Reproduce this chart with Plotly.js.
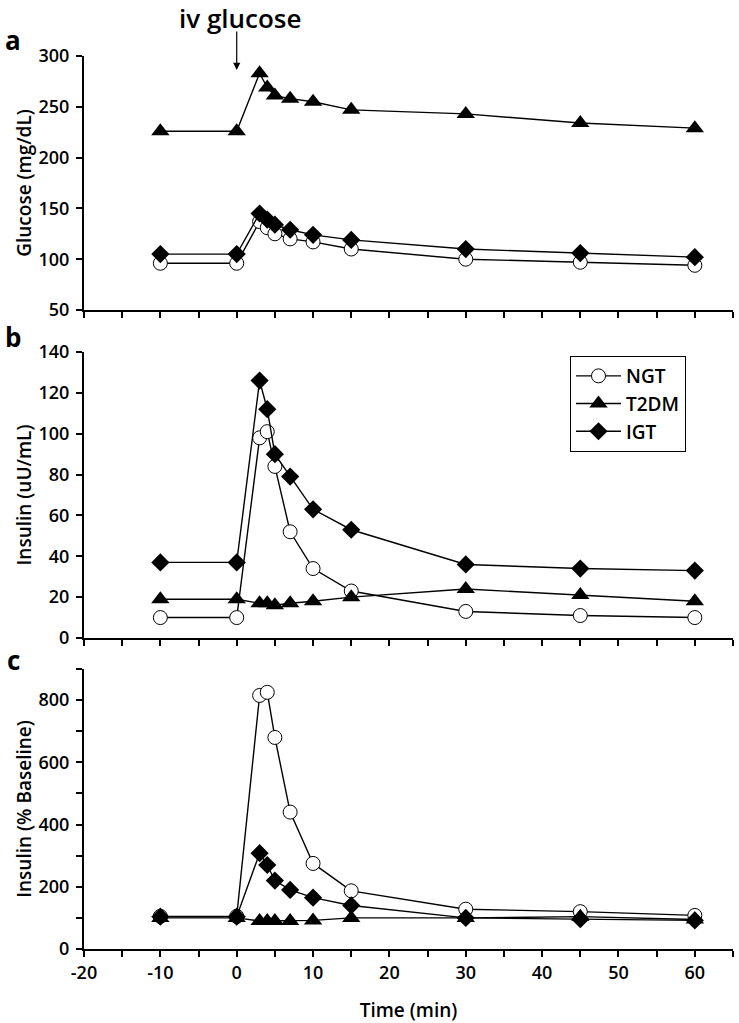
<!DOCTYPE html>
<html><head><meta charset="utf-8">
<script src="https://cdn.plot.ly/plotly-3.0.1.min.js"></script>
<style>body{margin:0;padding:0;background:#fff}#chart{width:739px;height:1023px}</style>
</head><body><div id="chart"></div>
<script>
const time = [-10, 0, 3, 4, 5, 7, 10, 15, 30, 45, 60];
const seriesNames = ['NGT', 'T2DM', 'IGT'];
const xTickVals = [-20, -10, 0, 10, 20, 30, 40, 50, 60];
const xTickLabels = ['-20', '-10', '0', '10', '20', '30', '40', '50', '60'];
// Panel a: glucose (mg/dL)
const glucoseNGT  = [96, 96, 137, 131, 125, 120, 117, 110, 100, 97, 94];
const glucoseT2DM = [226, 226, 283, 269, 261, 258, 255, 247, 243, 234, 229];
const glucoseIGT  = [105, 105, 145, 139, 134, 129, 124, 119, 110, 106, 102];
// Panel b: insulin (uU/mL)
const insulinNGT  = [10, 10, 98, 101, 84, 52, 34, 23, 13, 11, 10];
const insulinT2DM = [19, 19, 17, 17, 16, 17, 18, 20, 24, 21, 18];
const insulinIGT  = [37, 37, 126, 112, 90, 79, 63, 53, 36, 34, 33];
// Panel c: insulin (% baseline)
const pctNGT  = [105, 105, 815, 825, 680, 440, 275, 187, 128, 120, 108];
const pctT2DM = [100, 100, 90, 90, 90, 90, 92, 100, 100, 104, 95];
const pctIGT  = [104, 104, 308, 270, 220, 190, 165, 140, 100, 96, 92];

const markers = {
  NGT:  {symbol: 'circle', size: 14, color: '#ffffff', line: {color: '#000', width: 1}},
  T2DM: {symbol: 'triangle-up', size: 16, color: '#000000', line: {color: '#000', width: 0}},
  IGT:  {symbol: 'diamond', size: 14, color: '#000000', line: {color: '#000', width: 0}}
};
function tr(name, y, xa, ya, show) {
  return {x: time, y: y, name: name, type: 'scatter', mode: 'lines+markers',
    xaxis: xa, yaxis: ya, showlegend: show, legendgroup: name,
    line: {color: '#000', width: 1.4}, marker: markers[name]};
}
const data = [
  tr('NGT', glucoseNGT, 'x', 'y', false),
  tr('T2DM', glucoseT2DM, 'x', 'y', false),
  tr('IGT', glucoseIGT, 'x', 'y', false),
  tr('NGT', insulinNGT, 'x2', 'y2', true),
  tr('T2DM', insulinT2DM, 'x2', 'y2', true),
  tr('IGT', insulinIGT, 'x2', 'y2', true),
  tr('NGT', pctNGT, 'x3', 'y3', false),
  tr('T2DM', pctT2DM, 'x3', 'y3', false),
  tr('IGT', pctIGT, 'x3', 'y3', false)
];
const H = 1023, W = 739, L = 84, R = 6;
const py = p => 1 - p / H;
const px = p => (p - L) / (W - L - R);
const FAM = 'Open Sans, sans-serif';
const font = {family: FAM, size: 18, color: '#000', weight: 600};
const titleFont = {family: FAM, size: 19, color: '#000', weight: 600};
function xaxis(anchor, labels) {
  return {anchor: anchor, range: [-20, 65], tickmode: 'array', tickvals: xTickVals, ticktext: xTickLabels,
    showgrid: false, zeroline: false,
    showline: true, linecolor: '#000', linewidth: 2, ticks: 'outside', ticklen: 6, tickwidth: 2, tickcolor: '#000',
    minor: {dtick: 5, tick0: 0, ticks: 'outside', ticklen: 6, tickwidth: 2, tickcolor: '#000', showgrid: false},
    showticklabels: labels, tickfont: font, automargin: false};
}
function yaxis(anchor, range, dtick, minor, title, dom) {
  const a = {anchor: anchor, domain: dom, range: range, dtick: dtick, tick0: 0, showgrid: false, zeroline: false,
    showline: true, linecolor: '#000', linewidth: 2, ticks: 'outside', ticklen: 6, tickwidth: 2, tickcolor: '#000',
    tickfont: font, automargin: false, ticklabelstandoff: 3,
    title: {text: title, font: titleFont}};
  if (minor) a.minor = {dtick: minor, ticks: 'outside', ticklen: 6, tickwidth: 2, tickcolor: '#000', showgrid: false};
  return a;
}
const xc = xaxis('y3', true);
xc.title = {text: 'Time (min)', font: titleFont};
const layout = {
  width: W, height: H, margin: {l: L, r: R, t: 0, b: 0},
  paper_bgcolor: '#fff', plot_bgcolor: '#fff', font: font,
  xaxis: xaxis('y', false), xaxis2: xaxis('y2', false), xaxis3: xc,
  yaxis: yaxis('x', [50, 300], 50, null, 'Glucose (mg/dL)', [py(310), py(56)]),
  yaxis2: yaxis('x2', [0, 140], 20, null, 'Insulin (uU/mL)', [py(638), py(352)]),
  yaxis3: yaxis('x3', [0, 900], 200, 100, 'Insulin (% Baseline)', [py(949), py(669)]),
  showlegend: true,
  legend: {x: px(570), y: py(356), xanchor: 'left', yanchor: 'top', bordercolor: '#000', borderwidth: 1,
    bgcolor: '#fff', font: {family: FAM, size: 19, color: '#000', weight: 600}, tracegroupgap: 0,
    itemwidth: 45},
  annotations: [
    {text: 'iv glucose', xref: 'paper', yref: 'paper', x: px(240), y: py(18), xanchor: 'center', yanchor: 'middle',
      showarrow: false, font: {family: FAM, size: 26, color: '#000', weight: 600}},
    {text: '', xref: 'x', yref: 'paper', x: 0, y: py(70), ax: 0, ay: -40, showarrow: true,
      arrowhead: 2, arrowsize: 1.2, arrowwidth: 1.2, arrowcolor: '#000'},
    {text: 'a', xref: 'paper', yref: 'paper', x: px(13), y: py(40), xanchor: 'center', yanchor: 'middle', showarrow: false,
      font: {family: FAM, size: 26, color: '#000', weight: 700}},
    {text: 'b', xref: 'paper', yref: 'paper', x: px(13), y: py(337), xanchor: 'center', yanchor: 'middle', showarrow: false,
      font: {family: FAM, size: 26, color: '#000', weight: 700}},
    {text: 'c', xref: 'paper', yref: 'paper', x: px(13), y: py(660), xanchor: 'center', yanchor: 'middle', showarrow: false,
      font: {family: FAM, size: 26, color: '#000', weight: 700}}
  ]
};
Plotly.newPlot('chart', data, layout, {displayModeBar: false, staticPlot: true});
</script></body></html>
